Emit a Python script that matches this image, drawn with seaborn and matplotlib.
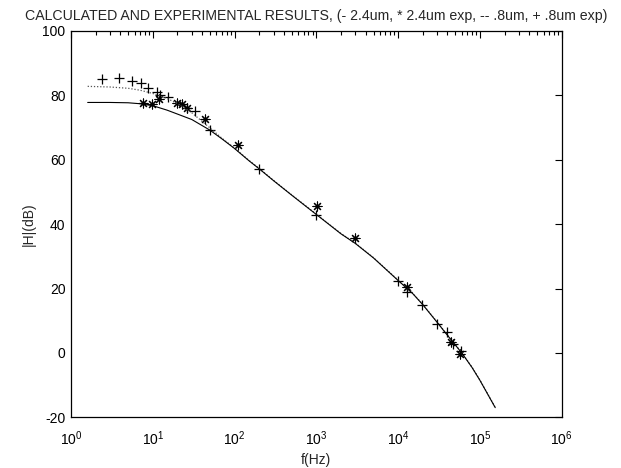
import numpy as np
import pandas as pd
import matplotlib
matplotlib.use("Agg")
import matplotlib.pyplot as plt
import seaborn as sns
from matplotlib.ticker import LogLocator, NullFormatter, MultipleLocator, FixedLocator

# ---- data ----
calc24_f = [1.6, 3, 5, 7, 10, 15, 20, 30, 50, 70, 100, 150, 200, 300, 500, 1000,
            2000, 3000, 5000, 10000, 15000, 20000, 30000, 40000, 60000, 80000, 100000, 154000]
calc24_db = [77.8, 77.8, 77.7, 77.4, 76.8, 75.4, 74.2, 72.5, 69.2, 66.5, 63.5, 59.7, 57.2, 53.5,
             49.0, 43.0, 37.0, 34.0, 29.5, 22.5, 18.5, 15.0, 9.5, 5.5, 0.0, -4.5, -8.5, -17.0]

calc08_f = [1.6, 3, 5, 7, 10, 15, 20, 30, 50, 70, 100, 150, 200, 300, 500, 1000,
            2000, 3000, 5000, 10000, 15000, 20000, 30000, 40000, 60000, 80000, 100000, 154000]
calc08_db = [82.8, 82.6, 82.2, 81.6, 80.6, 79.0, 77.5, 74.6, 69.9, 66.7, 63.6, 59.8, 57.3, 53.6,
             49.1, 43.1, 37.1, 34.1, 29.6, 22.6, 18.6, 15.1, 9.6, 5.6, 0.1, -4.4, -8.4, -16.9]

exp24_f = [7.7, 9.9, 12, 20, 22.6, 26.5, 43.6, 111, 1010, 3000, 12800, 44000, 57000]
exp24_db = [77.6, 77.2, 79.0, 77.6, 77.2, 76.2, 72.6, 64.5, 45.6, 35.6, 20.5, 3.4, -0.2]

exp08_f = [2.4, 3.9, 5.5, 7.2, 8.8, 11.4, 12.3, 15.5, 26.5, 33, 50, 200, 1000, 10000,
           12900, 19500, 29700, 39400, 46800, 59000]
exp08_db = [85.0, 85.3, 84.6, 83.9, 82.4, 81.1, 80.1, 79.6, 76.0, 75.1, 69.2, 57.1, 42.8, 22.3,
            19.0, 14.8, 8.9, 6.5, 2.7, 0.5]

x_major = [1, 10, 100, 1000, 10000, 100000, 1000000]
title = "CALCULATED AND EXPERIMENTAL RESULTS, (- 2.4um, * 2.4um exp, -- .8um, + .8um exp)"

# ---- plotting ----
sns.set_style("white")
plt.rcParams['font.family'] = ['Liberation Sans', 'DejaVu Sans']
plt.rcParams['mathtext.fontset'] = 'custom'
plt.rcParams['mathtext.rm'] = 'Liberation Sans'
plt.rcParams['mathtext.it'] = 'Liberation Sans'
plt.rcParams['axes.unicode_minus'] = False

fig = plt.figure(figsize=(6.21, 4.68), dpi=100)
ax = fig.add_axes([0.1143, 0.1083, 0.7902, 0.8255])

d24 = pd.DataFrame({"f": calc24_f, "db": calc24_db})
d08 = pd.DataFrame({"f": calc08_f, "db": calc08_db})
e24 = pd.DataFrame({"f": exp24_f, "db": exp24_db})
e08 = pd.DataFrame({"f": exp08_f, "db": exp08_db})

sns.lineplot(data=d08, x="f", y="db", ax=ax, color="#555555", linewidth=0.9,
             linestyle=(0, (1, 1.5)), sort=False, estimator=None)
sns.lineplot(data=d24, x="f", y="db", ax=ax, color="black", linewidth=0.8,
             sort=False, estimator=None)
sns.scatterplot(data=e24, x="f", y="db", ax=ax, marker=(8, 2, 0), s=42,
                color="black", linewidth=0.8)
sns.scatterplot(data=e08, x="f", y="db", ax=ax, marker="+", s=60,
                color="black", linewidth=0.9)

ax.set_xscale("log")
ax.set_xlim(1, 1e6)
ax.set_ylim(-20, 100)
ax.yaxis.set_major_locator(MultipleLocator(20))
ax.xaxis.set_major_locator(FixedLocator(x_major))
ax.xaxis.set_minor_locator(LogLocator(base=10, subs=np.arange(2, 10), numticks=20))
ax.xaxis.set_minor_formatter(NullFormatter())

ax.tick_params(axis="both", which="both", direction="in", top=True, right=True,
               labelsize=10, colors="black")
ax.tick_params(which="major", length=5, width=0.8)
ax.tick_params(which="minor", length=3, width=0.8)
ax.tick_params(axis="x", pad=9)
ax.tick_params(axis="y", pad=4)

for s in ax.spines.values():
    s.set_color("black")
    s.set_linewidth(0.9)

ax.set_xlabel("f(Hz)", fontsize=10, labelpad=3)
ax.set_ylabel("|H|(dB)", fontsize=10, labelpad=5)
ax.set_title(title, fontsize=10.2, pad=8)

fig.savefig("out.png", dpi=100, facecolor="white")
